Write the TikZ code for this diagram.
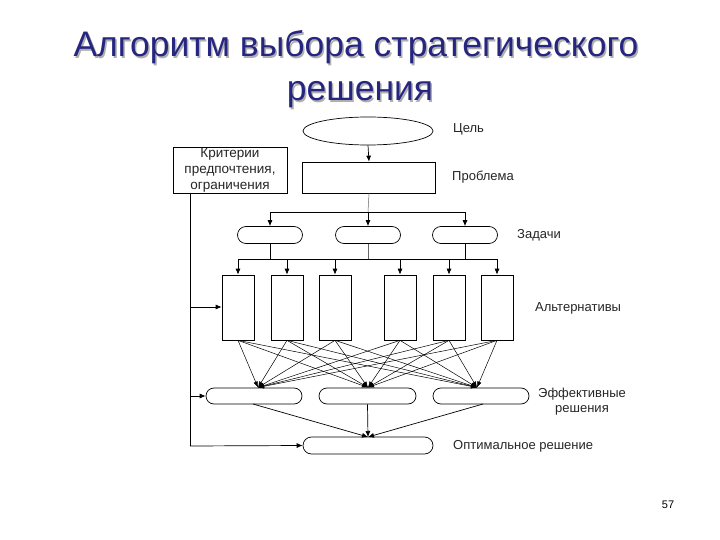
\documentclass[tikz,border=0pt]{standalone}
\usepackage{fontspec}
\setmainfont{Liberation Sans}
\usetikzlibrary{shapes.geometric,shapes.misc,arrows.meta}
\definecolor{titleblue}{RGB}{38,38,128}
\definecolor{shadowgray}{RGB}{175,175,175}
\begin{document}
\begin{tikzpicture}[x=1pt,y=-1pt,
  line/.style={draw=black,line width=0.7pt},
  arr/.style={line,-{Latex[length=6pt,width=5pt]}},
  altbox/.style={draw,line width=0.7pt,rectangle,minimum width=32pt,minimum height=65pt,inner sep=0pt},
  taskpill/.style={draw,line width=0.7pt,rounded rectangle,minimum width=65pt,minimum height=17pt,inner sep=0pt},
  effpill/.style={draw,line width=0.7pt,rounded rectangle,minimum width=96pt,minimum height=16pt,inner sep=0pt},
  lbl/.style={font=\fontsize{13}{15}\selectfont,text=black!85,anchor=west,inner sep=0pt},
  ttl/.style={font=\fontsize{35.5}{40}\selectfont,anchor=base,inner sep=0pt}]
\useasboundingbox (0,0) rectangle (720,540);
\fill[white] (0,0) rectangle (720,540);
% title
\node[ttl,text=shadowgray] (t1s) at (357.5,58.5) {Алгоритм выбора стратегического};
\node[ttl,text=titleblue] (t1) at (356,57) {Алгоритм выбора стратегического};
\node[ttl,text=shadowgray] (t2s) at (361.5,102.5) {решения};
\node[ttl,text=titleblue] (t2) at (360,101) {решения};
% nodes
\node[draw,line width=0.7pt,ellipse,minimum width=130pt,minimum height=28pt,inner sep=0pt] (goal) at (368,131) {};
\node[draw,line width=0.7pt,rectangle,minimum width=133pt,minimum height=31pt,inner sep=0pt] (prob) at (369,177.5) {};
\node[draw,line width=0.7pt,rectangle,minimum width=114pt,minimum height=46pt,inner sep=0pt,align=center,font=\fontsize{13.5}{16}\selectfont,text=black!85] (crit) at (230,170) {Критерии\\предпочтения,\\ограничения};
\node[taskpill] (ta) at (270,235) {};
\node[taskpill] (tb) at (368,235) {};
\node[taskpill] (tc) at (465,235) {};
\foreach \i/\x in {1/238,2/287,3/335,4/400,5/449,6/497}
  \node[altbox] (a\i) at (\x,307.5) {};
\node[effpill] (e1) at (254,396) {};
\node[effpill,minimum width=97pt] (e2) at (367.5,396) {};
\node[effpill] (e3) at (481,396) {};
\node[draw,line width=0.7pt,rounded rectangle,minimum width=130pt,minimum height=17pt,inner sep=0pt] (opt) at (368,445.5) {};
% labels
\node[lbl] (lgoal) at (453,129) {Цель};
\node[lbl] (lprob) at (452,177) {Проблема};
\node[lbl] (ltask) at (517,235) {Задачи};
\node[lbl] (lalt) at (535,308) {Альтернативы};
\node[font=\fontsize{13}{15}\selectfont,text=black!85,align=center,inner sep=0pt] (leff) at (582,402) {Эффективные\\решения};
\node[lbl] (lopt) at (453,446) {Оптимальное решение};
\node[font=\fontsize{11}{13}\selectfont,inner sep=0pt] (pnum) at (668,505) {57};
% coordinates
\coordinate (j1) at (368,212);
\coordinate (j1a) at (270,212);
\coordinate (j1c) at (465,212);
\coordinate (j2) at (368,259);
\coordinate (j2l) at (238,259);
\coordinate (j2r) at (497,259);
\coordinate (cb) at (190,193);
\coordinate (cl1) at (190,307);
\coordinate (cl2) at (190,396);
\coordinate (cl3) at (190,446);
\coordinate (p1) at (258,387.5);
\coordinate (p2) at (368,387.5);
\coordinate (p3) at (477,387.5);
\coordinate (o1) at (253,404);
\coordinate (o3) at (483,404);
\coordinate (q) at (368,437);
% connectors
\draw[arr] (goal.south) -- (prob.north);
\draw[draw=black!60,line width=0.5pt] (prob.south) -- (j1);
\draw[line] (j1a) -- (j1c);
\draw[arr] (j1a) -- (ta.north);
\draw[arr] (j1) -- (tb.north);
\draw[arr] (j1c) -- (tc.north);
\draw[line] (ta.south) |- (j2l);
\draw[draw=black!60,line width=0.5pt] (tb.south) -- (j2);
\draw[line] (tc.south) |- (j2r);
\draw[line] (j2l) -- (j2r);
\foreach \i in {1,...,6} \draw[arr] (a\i.north |- j2l) -- (a\i.north);
\draw[line] (cb) -- (cl3);
\draw[arr] (cl1) -- (a1.west |- cl1);
\draw[arr] (cl2) -- (e1.west);
\draw[arr] (cl3) -- (opt.west);
\foreach \i in {1,...,6}
  \foreach \p in {p1,p2,p3}
    \draw[line,line width=0.5pt,-{Latex[length=6pt,width=4.5pt]}] (a\i.south) -- (\p);
\draw[arr] (o1) -- (q);
\draw[arr] (e2.south) -- (q);
\draw[arr] (o3) -- (q);
\end{tikzpicture}
\end{document}
